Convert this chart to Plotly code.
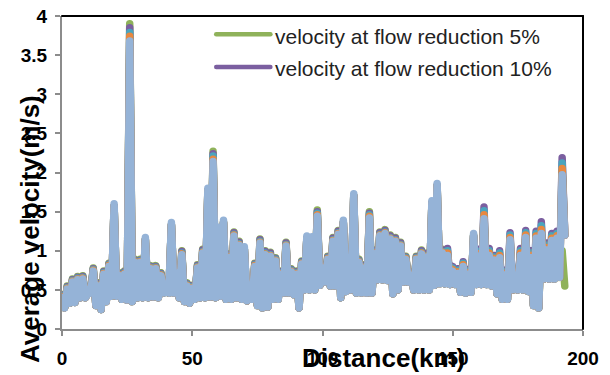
import plotly.graph_objects as go

# ---------------- data ----------------
# distance (km) of every sampled point; peaks at even km, troughs at odd km
DIST = list(range(0, 194))

# trough velocities (m/s) at km 1, 3, ..., 193 (shared by the series)
VEL_LOW = [
    0.27, 0.33, 0.34, 0.40, 0.40, 0.46, 0.30, 0.25, 0.35, 0.42,
    0.42, 0.38, 0.37, 0.35, 0.40, 0.40, 0.40, 0.41, 0.40, 0.46,
    0.46, 0.46, 0.40, 0.35, 0.33, 0.38, 0.40, 0.40, 0.41, 0.40,
    0.42, 0.38, 0.38, 0.40, 0.38, 0.36, 0.38, 0.30, 0.27, 0.28,
    0.38, 0.38, 0.46, 0.46, 0.44, 0.27, 0.50, 0.50, 0.50, 0.56,
    0.60, 0.55, 0.55, 0.40, 0.48, 0.50, 0.46, 0.46, 0.46, 0.46,
    0.63, 0.63, 0.62, 0.45, 0.50, 0.60, 0.60, 0.50, 0.50, 0.50,
    0.50, 0.56, 0.58, 0.58, 0.57, 0.57, 0.47, 0.46, 0.47, 0.57,
    0.57, 0.57, 0.55, 0.45, 0.38, 0.38, 0.50, 0.50, 0.50, 0.48,
    0.30, 0.27, 0.64, 0.64, 0.64, 0.66, 1.20,
]
GREEN_LOW_END = 0.55  # last trough of the 5% series

# peak velocities (m/s) at km 0, 2, ..., 192
GREEN_PEAK = [
    0.44, 0.55, 0.64, 0.67, 0.68, 0.49, 0.78, 0.59, 0.74, 0.84,
    1.57, 0.72, 0.74, 3.90, 0.89, 0.89, 1.14, 0.81, 0.81, 0.72,
    0.52, 1.33, 0.75, 1.00, 0.59, 0.56, 0.82, 1.02, 1.77, 2.27,
    1.27, 1.36, 0.96, 1.24, 1.12, 1.02, 0.59, 0.84, 1.15, 1.00,
    0.98, 0.91, 0.74, 1.11, 0.77, 0.74, 0.87, 1.16, 1.15, 1.52,
    0.82, 0.93, 1.17, 1.26, 1.36, 0.69, 1.70, 0.89, 0.82, 1.50,
    1.01, 1.24, 1.27, 1.20, 1.17, 1.11, 0.93, 0.73, 0.93, 1.01,
    0.97, 1.61, 1.83, 1.02, 0.92, 0.72, 0.69, 0.78, 0.68, 1.20,
    0.91, 1.39, 0.92, 0.86, 0.89, 0.67, 1.12, 0.66, 0.92, 1.15,
    0.89, 1.14, 1.20, 0.99, 1.11, 0.90, 1.00,
]
PURPLE_PEAK = [
    0.43, 0.54, 0.63, 0.66, 0.67, 0.48, 0.77, 0.58, 0.73, 0.83,
    1.57, 0.71, 0.73, 3.85, 0.88, 0.88, 1.14, 0.80, 0.80, 0.71,
    0.51, 1.33, 0.74, 0.99, 0.58, 0.55, 0.81, 1.01, 1.77, 2.24,
    1.27, 1.36, 0.95, 1.23, 1.11, 1.02, 0.58, 0.83, 1.14, 0.99,
    0.97, 0.90, 0.73, 1.10, 0.76, 0.73, 0.86, 1.16, 1.15, 1.50,
    0.81, 0.92, 1.16, 1.25, 1.36, 0.68, 1.70, 0.88, 0.81, 1.48,
    1.00, 1.23, 1.26, 1.19, 1.16, 1.10, 0.92, 0.72, 0.92, 1.00,
    0.96, 1.61, 1.83, 1.01, 1.03, 0.80, 0.77, 0.86, 0.76, 1.19,
    1.02, 1.56, 1.03, 0.94, 1.00, 0.75, 1.23, 0.74, 1.03, 1.26,
    1.00, 1.25, 1.37, 1.10, 1.22, 1.25, 2.19,
]
TEAL_PEAK = [
    0.42, 0.53, 0.62, 0.65, 0.66, 0.47, 0.76, 0.57, 0.72, 0.82,
    1.57, 0.70, 0.72, 3.79, 0.87, 0.87, 1.14, 0.79, 0.79, 0.70,
    0.50, 1.33, 0.73, 0.97, 0.57, 0.54, 0.80, 0.99, 1.77, 2.21,
    1.27, 1.36, 0.93, 1.21, 1.09, 1.02, 0.57, 0.82, 1.12, 0.97,
    0.95, 0.89, 0.72, 1.08, 0.75, 0.72, 0.85, 1.16, 1.15, 1.48,
    0.80, 0.91, 1.14, 1.23, 1.36, 0.67, 1.70, 0.87, 0.80, 1.46,
    0.98, 1.21, 1.24, 1.17, 1.14, 1.08, 0.91, 0.71, 0.91, 0.98,
    0.94, 1.61, 1.83, 0.99, 1.00, 0.78, 0.75, 0.84, 0.74, 1.19,
    0.99, 1.51, 1.00, 0.92, 0.97, 0.73, 1.20, 0.72, 1.00, 1.23,
    0.97, 1.22, 1.32, 1.07, 1.19, 1.22, 2.12,
]
ORANGE_PEAK = [
    0.41, 0.52, 0.61, 0.64, 0.65, 0.46, 0.75, 0.56, 0.71, 0.81,
    1.57, 0.69, 0.71, 3.74, 0.86, 0.86, 1.14, 0.78, 0.78, 0.69,
    0.49, 1.33, 0.72, 0.96, 0.56, 0.53, 0.79, 0.98, 1.77, 2.17,
    1.27, 1.36, 0.92, 1.20, 1.08, 1.02, 0.56, 0.81, 1.11, 0.96,
    0.94, 0.88, 0.71, 1.07, 0.74, 0.71, 0.84, 1.16, 1.15, 1.46,
    0.79, 0.90, 1.13, 1.22, 1.36, 0.66, 1.70, 0.86, 0.79, 1.44,
    0.97, 1.20, 1.23, 1.16, 1.13, 1.07, 0.90, 0.70, 0.90, 0.97,
    0.93, 1.61, 1.83, 0.98, 0.97, 0.76, 0.73, 0.82, 0.72, 1.19,
    0.96, 1.46, 0.97, 0.90, 0.94, 0.71, 1.17, 0.70, 0.97, 1.20,
    0.94, 1.19, 1.27, 1.04, 1.16, 1.19, 2.05,
]
LIGHTBLUE_PEAK = [
    0.40, 0.51, 0.60, 0.63, 0.64, 0.45, 0.74, 0.55, 0.70, 0.80,
    1.60, 0.68, 0.70, 3.68, 0.85, 0.85, 1.17, 0.77, 0.77, 0.68,
    0.48, 1.36, 0.71, 0.95, 0.55, 0.52, 0.78, 0.97, 1.80, 2.14,
    1.30, 1.39, 0.91, 1.19, 1.07, 1.05, 0.55, 0.80, 1.10, 0.95,
    0.93, 0.87, 0.70, 1.06, 0.73, 0.70, 0.83, 1.19, 1.18, 1.44,
    0.78, 0.89, 1.12, 1.21, 1.39, 0.65, 1.73, 0.85, 0.78, 1.42,
    0.96, 1.19, 1.22, 1.15, 1.12, 1.06, 0.89, 0.69, 0.89, 0.96,
    0.92, 1.64, 1.86, 0.97, 0.94, 0.74, 0.71, 0.80, 0.70, 1.22,
    0.93, 1.41, 0.94, 0.88, 0.91, 0.69, 1.14, 0.68, 0.94, 1.17,
    0.91, 1.16, 1.22, 1.01, 1.13, 1.16, 1.97,
]

LEGEND_LABELS = ["velocity at flow reduction 5%", "velocity at flow reduction 10%"]
X_TICKS = [0, 50, 100, 150, 200]
Y_TICKS = [0, 0.5, 1, 1.5, 2, 2.5, 3, 3.5, 4]


def zigzag(peaks, lows):
    out = []
    for p, l in zip(peaks, lows):
        out.extend([p, l])
    return out


green_lows = VEL_LOW[:-1] + [GREEN_LOW_END]

SERIES = [
    (LEGEND_LABELS[0], zigzag(GREEN_PEAK, green_lows), "#8FB25A"),
    (LEGEND_LABELS[1], zigzag(PURPLE_PEAK, VEL_LOW), "#7B5FA0"),
    ("velocity series 3", zigzag(TEAL_PEAK, VEL_LOW), "#4AA5BE"),
    ("velocity series 4", zigzag(ORANGE_PEAK, VEL_LOW), "#E8883F"),
    ("velocity series 5", zigzag(LIGHTBLUE_PEAK, VEL_LOW), "#95B3D7"),
]

FONT = "Arial, 'Liberation Sans', Helvetica, sans-serif"

fig = go.Figure()
for name, vals, color in SERIES:
    fig.add_trace(go.Scatter(
        x=DIST, y=vals, mode="lines", name=name,
        line=dict(color=color, width=7.5),
        showlegend=False,
    ))

axis_common = dict(
    showgrid=False, zeroline=False, showline=True, automargin=False,
    linecolor="#8c8c8c", linewidth=2,
    ticks="outside", ticklen=5, tickwidth=1.5, tickcolor="#8c8c8c",
    tickfont=dict(family=FONT, size=19, color="black", weight="bold"),
)

fig.update_layout(
    width=610, height=375,
    margin=dict(l=62, r=27, t=16, b=46, autoexpand=False),
    paper_bgcolor="white", plot_bgcolor="white",
    font=dict(family=FONT, color="black"),
    xaxis=dict(range=[0, 200], tickvals=X_TICKS,
               ticktext=["<b>%g</b>" % v for v in X_TICKS],
               ticklabelstandoff=6, **axis_common),
    yaxis=dict(range=[0, 4], tickvals=Y_TICKS,
               ticktext=["<b>%g</b>" % v for v in Y_TICKS],
               ticklabelstandoff=4, **axis_common),
    showlegend=False,
)

# top & right frame of the plot area
fig.add_shape(type="line", xref="paper", yref="paper", x0=0, x1=1, y0=1, y1=1,
              line=dict(color="black", width=2))
fig.add_shape(type="line", xref="paper", yref="paper", x0=1, x1=1, y0=0, y1=1,
              line=dict(color="black", width=2))

# legend (only the first two series are listed in the original)
legend_rows = [(0.942, SERIES[0][2], LEGEND_LABELS[0]), (0.837, SERIES[1][2], LEGEND_LABELS[1])]
for ypos, color, label in legend_rows:
    fig.add_shape(type="line", xref="paper", yref="paper",
                  x0=0.296, x1=0.400, y0=ypos, y1=ypos,
                  line=dict(color=color, width=4.5))
    fig.add_annotation(xref="paper", yref="paper", x=0.405, y=ypos - 0.006,
                       xanchor="left", yanchor="middle", showarrow=False,
                       text=label, font=dict(family=FONT, size=21, color="#222222"))

# axis titles (overlapping the tick labels as in the original)
fig.add_annotation(xref="paper", yref="paper", x=0.617, y=-0.093,
                   xanchor="center", yanchor="middle", showarrow=False,
                   text="<b>Distance(km)</b>",
                   font=dict(family=FONT, size=26, color="black"))
fig.add_annotation(xref="paper", yref="paper", x=-0.061, y=0.32,
                   xanchor="center", yanchor="middle", showarrow=False,
                   textangle=-90, text="<b>Average velocity(m/s)</b>",
                   font=dict(family=FONT, size=26, color="black"))

post = """
document.body.style.margin='0';
document.body.style.padding='0';
document.querySelectorAll('.scatterlayer path.js-line').forEach(function(p){
  p.style.strokeLinejoin='round'; p.style.strokeLinecap='round';
});
document.querySelectorAll('.shapelayer path').forEach(function(p){
  p.style.strokeLinecap='round';
});
"""

fig.write_html("out.html", post_script=post, config={"displayModeBar": False})
